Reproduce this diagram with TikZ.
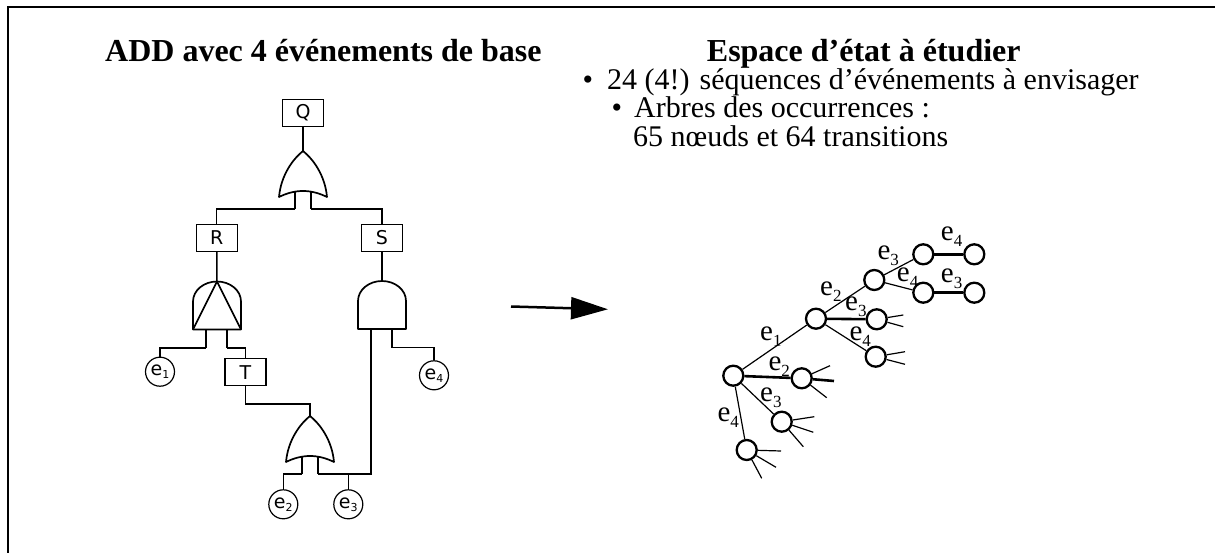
\documentclass[tikz,border=0pt]{standalone}
\usepackage{fontspec}
\setmainfont{Liberation Serif}
\newfontfamily\ftfont{DejaVu Sans}
\usepackage{tikz}
\usetikzlibrary{arrows.meta,positioning,calc}
\newcommand{\evt}[1]{e\raisebox{-6pt}{\fontsize{17}{17}\selectfont#1}}
\newcommand{\evb}[1]{e\raisebox{-3pt}{\fontsize{11}{11}\selectfont#1}}

\begin{document}
\begin{tikzpicture}
[x=1pt,y=-1pt,
ftline/.style={line width=1.5pt},
gate/.style={line width=1.7pt,line join=round},
evbox/.style={draw,rectangle,line width=1.3pt,minimum width=41pt,minimum height=27pt,inner sep=0pt,font=\ftfont\fontsize{19}{19}\selectfont},
basic/.style={draw,circle,line width=1.2pt,minimum size=29pt,inner sep=0pt,font=\ftfont\fontsize{19}{19}\selectfont},
state/.style={draw,circle,line width=2.3pt,minimum size=20pt,inner sep=0pt},
trans/.style={line width=1.2pt},
thicktrans/.style={line width=2.6pt},
tlabel/.style={anchor=base west,inner sep=0pt,font=\fontsize{29}{29}\selectfont},
txt/.style={anchor=base west,inner sep=0pt,font=\fontsize{30}{30}\selectfont},
ttl/.style={anchor=base west,inner sep=0pt,font=\fontsize{32}{32}\selectfont\bfseries},
orgate/.pic={
\draw[gate] (0,0) .. controls (-10,8) and (-22,24) .. (-24,46) .. controls (-8,38) and (8,38) .. (24,46) .. controls (22,24) and (10,8) .. (0,0) -- cycle;
\draw[ftline] (-8,40.7) -- (-8,58) coordinate (-lo);
\draw[ftline] (8,40.7) -- (8,58) coordinate (-ro);
\coordinate (-top) at (0,0);
\coordinate (-in) at (0,-12);
},
andgate/.pic={
\draw[gate] (-24,48) -- (-24,20) arc[start angle=180,end angle=360,x radius=24,y radius=20] -- (24,48) -- cycle;
\draw[ftline] (-11,48) -- (-11,66.5) coordinate (-lo);
\draw[ftline] (10,48) -- (10,66.5) coordinate (-ro);
\coordinate (-top) at (0,0);
},
pandgate/.pic={
\draw[gate] (-24,48) -- (-24,20) arc[start angle=180,end angle=360,x radius=24,y radius=20] -- (24,48) -- cycle;
\draw[gate] (-24,48) -- (0,0) -- (24,48);
\draw[ftline] (-11,48) -- (-11,66.5) coordinate (-lo);
\draw[ftline] (10,48) -- (10,66.5) coordinate (-ro);
\coordinate (-top) at (0,0);
}]
\useasboundingbox (0,0) rectangle (1215,553);
\draw[line width=2.5pt] (7.8,553) -- (7.8,7) -- (1215,7);

% titles and text
\node[ttl] (addtitle) at (105,62) {ADD avec 4 événements de base};
\node[ttl] (esptitle) at (706.7,62) {Espace d’état à étudier};
\node[txt] (bul1) at (582.5,90) {•};
\node[txt] (item1) at (607,90) {24 (4!) séquences d’événements à envisager};
\node[txt] (bul2) at (611.5,118) {•};
\node[txt] (item2) at (634,118) {Arbres des occurrences :};
\node[txt] (item3) at (633,146.7) {65 nœuds et 64 transitions};

% fault tree
\node[evbox] (Q) at (303,112.7) {Q};
\node[evbox] (R) at (216.7,237.8) {R};
\node[evbox] (S) at (382,237.8) {S};
\node[evbox] (T) at (245.5,372.3) {T};
\pic (or1) at (303,151) {orgate};
\pic (pand) at (217,281.5) {pandgate};
\pic (sand) at (382,281) {andgate};
\pic (or2) at (310,416) {orgate};
\node[basic] (e1) at (160,371.7) {\evb{1}};
\node[basic] (e2) at (283.3,504.3) {\evb{2}};
\node[basic] (e3) at (348.3,504.3) {\evb{3}};
\node[basic] (e4) at (434,375.3) {\evb{4}};
\draw[ftline] (Q) -- (or1-top);
\draw[ftline] (or1-lo) -| (R);
\draw[ftline] (or1-ro) -| (S);
\draw[ftline] (R) -- (pand-top);
\draw[ftline] (S) -- (sand-top);
\draw[ftline] (pand-lo) -| (e1);
\draw[ftline] (pand-ro) -| (T);
\draw[ftline] (T) |- (or2-in) -- (or2-top);
\draw[ftline] (sand-ro) -| (e4);
\draw[ftline] (sand-lo) |- (or2-ro);
\draw[ftline] (or2-lo) -| (e2);
\draw[ftline] (or2-ro) -| (e3);

% arrow
\coordinate (arrs) at (511,306.5);
\coordinate (arre) at (608,309.3);
\draw[line width=2.5pt,-{Triangle[length=37pt,width=22pt]}] (arrs) -- (arre);

% occurrence tree
\node[state] (a) at (733.3,375.7) {};
\node[state] (a1) at (816,318.7) {};
\node[state] (a12) at (874.3,280) {};
\node[state] (a123) at (923.3,254.3) {};
\node[state] (a1234) at (974.3,254.3) {};
\node[state] (a124) at (923.3,292.7) {};
\node[state] (a1243) at (974.3,292.7) {};
\node[state] (a13) at (876.7,319.3) {};
\node[state] (a14) at (875.7,356.7) {};
\node[state] (a2) at (801.7,378.3) {};
\node[state] (a3) at (781.7,421.7) {};
\node[state] (a4) at (746.7,450) {};
\draw[trans] (a) -- (a1);
\draw[thicktrans] (a) -- (a2);
\draw[trans] (a) -- (a3);
\draw[trans] (a) -- (a4);
\draw[trans] (a1) -- (a12);
\draw[thicktrans] (a1) -- (a13);
\draw[trans] (a1) -- (a14);
\draw[trans] (a12) -- (a123);
\draw[trans] (a12) -- (a124);
\draw[thicktrans] (a123) -- (a1234);
\draw[thicktrans] (a124) -- (a1243);
% cut branches
\foreach \p in {(26.6,-4.3),(26.6,7.4)} \draw[trans] (a13) -- ++\p;
\foreach \p in {(29.3,-5),(29.3,7.6)} \draw[trans] (a14) -- ++\p;
\foreach \p in {(28.3,-12.6),(25,19.4)} \draw[trans] (a2) -- ++\p;
\draw[thicktrans] (a2) -- ++(32.3,2.7);
\foreach \p in {(32.6,-5),(31.6,10.6),(21.6,25)} \draw[trans] (a3) -- ++\p;
\foreach \p in {(34.3,1),(29.3,17.3),(15,28.3)} \draw[trans] (a4) -- ++\p;
% labels
\node[tlabel] (l1) at (760,340) {\evt{1}};
\node[tlabel] (l2) at (768.3,370) {\evt{2}};
\node[tlabel] (l3) at (760,401.7) {\evt{3}};
\node[tlabel] (l4) at (717.3,421.7) {\evt{4}};
\node[tlabel] (l12) at (820,295) {\evt{2}};
\node[tlabel] (l13) at (845,310) {\evt{3}};
\node[tlabel] (l14) at (849.3,340) {\evt{4}};
\node[tlabel] (l123) at (877.3,260) {\evt{3}};
\node[tlabel] (l124) at (896.7,281.7) {\evt{4}};
\node[tlabel] (l1234) at (940.7,240.7) {\evt{4}};
\node[tlabel] (l1243) at (940.7,282.7) {\evt{3}};
\end{tikzpicture}
\end{document}
